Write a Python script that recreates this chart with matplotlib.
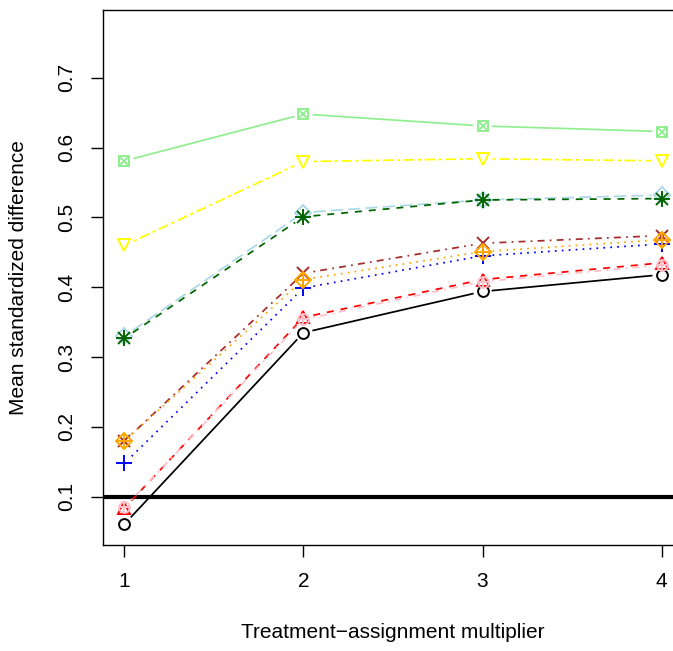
"""
Mean standardized difference vs treatment-assignment multiplier (R matplot style).
"""

import numpy as np
import matplotlib
matplotlib.use('Agg')
import matplotlib.pyplot as plt

plt.rcParams['font.family'] = ['Liberation Sans', 'DejaVu Sans']

# Data
multiplier = [1, 2, 3, 4]

black_circle = [0.061, 0.335, 0.394, 0.418]
red_triangle = [0.084, 0.357, 0.411, 0.435]
blue_plus = [0.148, 0.399, 0.445, 0.462]
brown_cross = [0.180, 0.420, 0.463, 0.474]
lightblue_diamond = [0.330, 0.507, 0.525, 0.532]
yellow_tridown = [0.460, 0.580, 0.584, 0.581]
lightgreen_squarex = [0.581, 0.648, 0.631, 0.623]
darkgreen_asterisk = [0.327, 0.501, 0.525, 0.527]
orange_diamondplus = [0.180, 0.411, 0.451, 0.468]
pink_circleplus = [0.085, 0.354, 0.408, 0.432]

series = [black_circle, red_triangle, blue_plus, brown_cross, lightblue_diamond,
          yellow_tridown, lightgreen_squarex, darkgreen_asterisk,
          orange_diamondplus, pink_circleplus]
colors = ['black', 'red', 'blue', 'brown', 'lightblue', 'yellow',
          'lightgreen', 'darkgreen', 'orange', 'pink']

threshold = 0.1

# R line types: solid, dashed, dotted, dotdash, longdash, twodash (recycled)
R_LTY = ['-', (0, (4, 4)), (0, (1, 3)), (0, (1, 3, 4, 3)), (0, (7, 3)), (0, (2, 2, 6, 2))]
# R pch 1..10 built from matplotlib markers (overlays for composite symbols)
R_PCH = [
    [('o', 7.8)],
    [('^', 8.8)],
    [('+', 11)],
    [('x', 8)],
    [('D', 8)],
    [('v', 8.8)],
    [('s', 7.8), ('x', 7.8)],
    [('+', 11), ('x', 8)],
    [('D', 8), ('+', 11)],
    [('o', 7.8), ('+', 7.8)],
]

LW = 1.25
GAP_PX = 10  # type="b" gap around points
FS = 15

fig = plt.figure(figsize=(6.73, 6.51), dpi=100)
ax = fig.add_axes([103 / 673, 106 / 651, 580 / 673, 535 / 651])
ax.set_xlim(0.88, 4.12)
ax.set_ylim(0.031, 0.797)

ax.axhline(threshold, color='black', lw=3, zorder=1)

fig.canvas.draw()
to_px = ax.transData
to_data = ax.transData.inverted()

for i, (vals, col) in enumerate(zip(series, colors)):
    lty = R_LTY[i % len(R_LTY)]
    pts = to_px.transform(np.column_stack([multiplier, vals]))
    # line segments shortened around each point like R's type="b"
    for p0, p1 in zip(pts[:-1], pts[1:]):
        d = p1 - p0
        L = np.hypot(*d)
        u = d / L
        seg = to_data.transform(np.vstack([p0 + u * GAP_PX, p1 - u * GAP_PX]))
        ax.plot(seg[:, 0], seg[:, 1], color=col, lw=LW, linestyle=lty,
                zorder=2 + i, clip_on=False)
    for mk, ms in R_PCH[i]:
        ax.plot(multiplier, vals, linestyle='none', marker=mk, ms=ms,
                mfc='none', mec=col, mew=1.4, zorder=2 + i, clip_on=False)

ax.set_xticks(multiplier)
ax.set_yticks([0.1, 0.2, 0.3, 0.4, 0.5, 0.6, 0.7])
ax.tick_params(direction='out', length=8.6, width=1.0, pad=11, labelsize=FS)
plt.setp(ax.get_yticklabels(), rotation=90, va='center')
for s in ax.spines.values():
    s.set_linewidth(1.0)

ax.set_xlabel('Treatment\u2212assignment multiplier', fontsize=FS)
ax.set_ylabel('Mean standardized difference', fontsize=FS)
ax.xaxis.label.set_va('center')
ax.yaxis.label.set_va('center')
ax.xaxis.set_label_coords(0.5, (545 - 632) / 535)
ax.yaxis.set_label_coords((18 - 103) / 580, 0.5)

fig.savefig('out.png', dpi=100)
